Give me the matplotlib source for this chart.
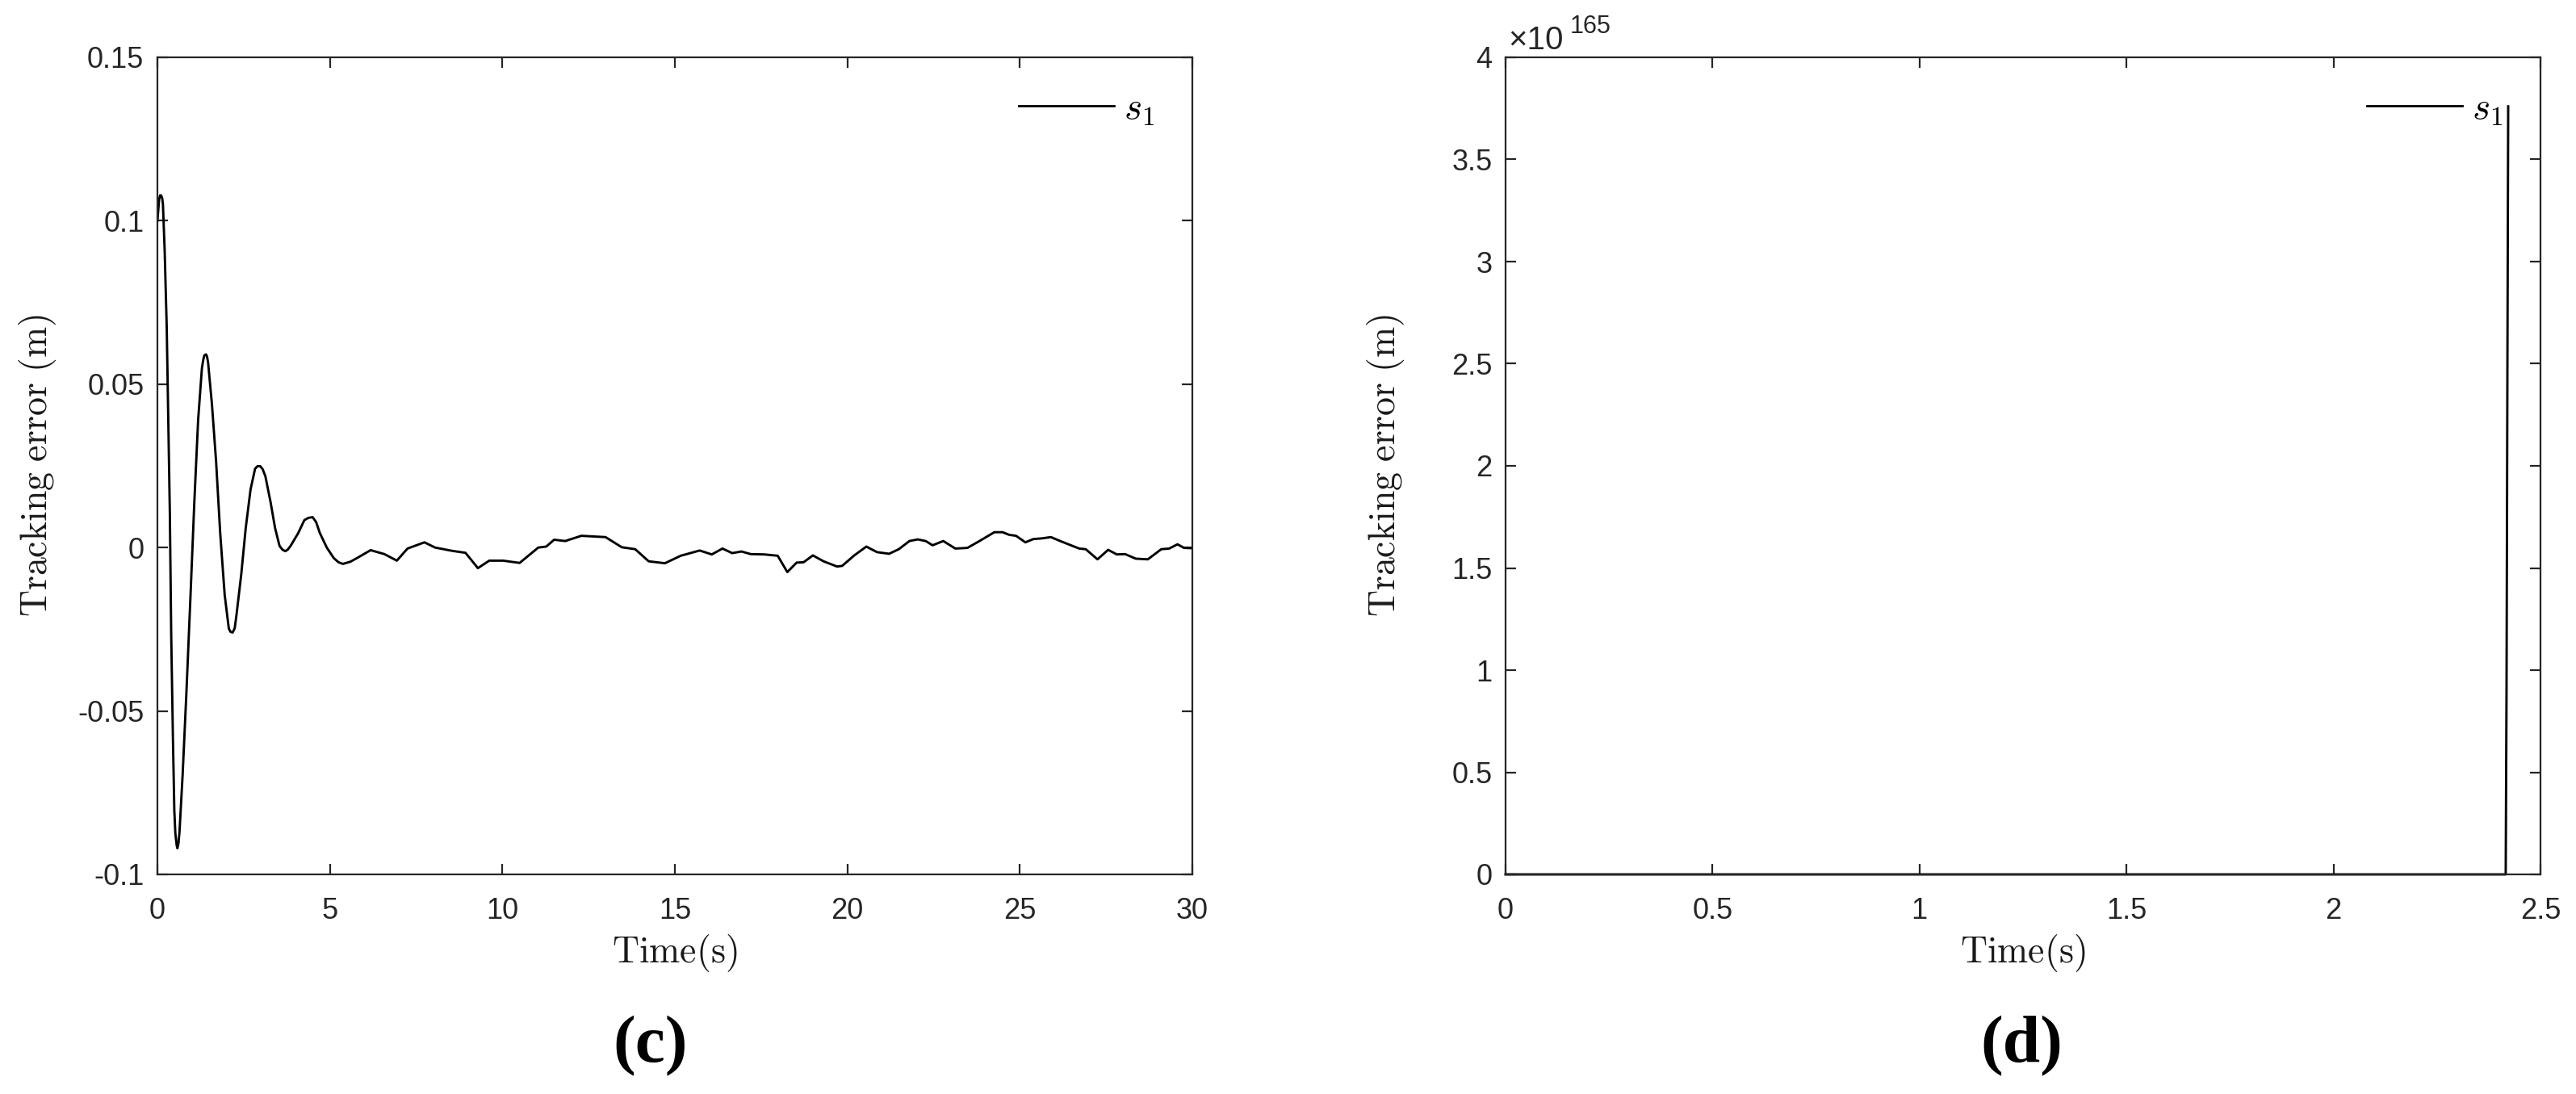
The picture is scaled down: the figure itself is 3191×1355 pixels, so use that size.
import matplotlib
matplotlib.use('Agg')
import matplotlib.pyplot as plt
from matplotlib.ticker import FixedLocator, FuncFormatter

plt.rcParams['mathtext.fontset'] = 'cm'
plt.rcParams['axes.unicode_minus'] = False
plt.rcParams['font.family'] = ['Liberation Sans', 'DejaVu Sans']

# ---------------- data: panel (c) ----------------
t_c = [0.00, 0.05, 0.08, 0.11, 0.14, 0.16, 0.21, 0.27, 0.31, 0.36, 0.40, 0.45, 0.49,
       0.52, 0.56, 0.58, 0.61, 0.64, 0.73, 0.84, 0.96, 1.07, 1.18, 1.29, 1.33, 1.36,
       1.41, 1.44, 1.47, 1.58, 1.70, 1.82, 1.95, 2.07, 2.12, 2.18, 2.24, 2.29, 2.43,
       2.56, 2.70, 2.83, 2.90, 2.98, 3.05, 3.13, 3.28, 3.41, 3.54, 3.63, 3.71, 3.78,
       3.86, 4.08, 4.26, 4.38, 4.50, 4.60, 4.71, 4.91, 5.11, 5.25, 5.38, 5.60, 5.82,
       6.18, 6.58, 6.94, 7.25, 7.74, 8.05, 8.54, 8.93, 9.29, 9.62, 10.02, 10.50,
       11.04, 11.27, 11.50, 11.82, 12.29, 12.99, 13.46, 13.85, 14.24, 14.71, 15.17,
       15.72, 16.07, 16.38, 16.66, 16.93, 17.20, 17.59, 17.98, 18.26, 18.53, 18.73,
       19.00, 19.31, 19.70, 19.85, 20.20, 20.55, 20.86, 21.21, 21.49, 21.80, 22.04,
       22.27, 22.47, 22.78, 23.13, 23.48, 23.83, 24.26, 24.50, 24.69, 24.89, 25.16,
       25.39, 25.63, 25.90, 26.17, 26.48, 26.72, 26.91, 27.25, 27.56, 27.81, 28.05,
       28.36, 28.71, 29.10, 29.33, 29.57, 29.76, 30.00]
s1_c = [0.1000, 0.1066, 0.1078, 0.1077, 0.1068, 0.1050, 0.0910, 0.0673, 0.0420,
        0.0107, -0.0270, -0.0585, -0.0805, -0.0875, -0.0912, -0.0920, -0.0905,
        -0.0870, -0.0697, -0.0445, -0.0145, 0.0139, 0.0390, 0.0549, 0.0575, 0.0588,
        0.0591, 0.0584, 0.0565, 0.0439, 0.0265, 0.0044, -0.0145, -0.0248, -0.0258,
        -0.0260, -0.0247, -0.0208, -0.0082, 0.0060, 0.0178, 0.0241, 0.0249, 0.0249,
        0.0240, 0.0218, 0.0139, 0.0060, 0.0005, -0.0007, -0.0011, -0.0006, 0.0005,
        0.0044, 0.0084, 0.0091, 0.0093, 0.0078, 0.0044, 0.0000, -0.0032, -0.0045,
        -0.0050, -0.0043, -0.0030, -0.0008, -0.0020, -0.0040, -0.0003, 0.0016,
        0.0000, -0.0010, -0.0016, -0.0063, -0.0040, -0.0040, -0.0047, 0.0000,
        0.0003, 0.0024, 0.0020, 0.0036, 0.0032, 0.0001, -0.0005, -0.0042, -0.0048,
        -0.0025, -0.0009, -0.0021, -0.0003, -0.0017, -0.0012, -0.0020, -0.0021,
        -0.0025, -0.0075, -0.0046, -0.0045, -0.0024, -0.0042, -0.0058, -0.0056,
        -0.0024, 0.0003, -0.0014, -0.0019, -0.0005, 0.0020, 0.0025, 0.0020, 0.0007,
        0.0020, -0.0003, -0.0001, 0.0020, 0.0047, 0.0047, 0.0039, 0.0036, 0.0016,
        0.0026, 0.0028, 0.0032, 0.0020, 0.0007, -0.0003, -0.0005, -0.0036, -0.0007,
        -0.0021, -0.0020, -0.0034, -0.0036, -0.0005, -0.0003, 0.0010, -0.0001,
        -0.0002]

# ---------------- data: panel (d) ----------------
t_d = [0.0, 2.416, 2.418, 2.420, 2.422]
s1_d = [0.0, 0.0, 0.9e165, 2.4e165, 3.76e165]

xticks_c = [0, 5, 10, 15, 20, 25, 30]
yticks_c = [-0.1, -0.05, 0, 0.05, 0.1, 0.15]
xticks_d = [0, 0.5, 1, 1.5, 2, 2.5]
yticks_d = [0, 0.5e165, 1e165, 1.5e165, 2e165, 2.5e165, 3e165, 3.5e165, 4e165]

xlabel = r'$\mathrm{Time(s)}$'
ylabel = r'$\mathrm{Tracking\ error\ (m)}$'
legend_label = r'$s_1$'
panel_labels = ['(c)', '(d)']

# ---------------- figure ----------------
W, H = 3191, 1355
DPI = 200
fig = plt.figure(figsize=(W / DPI, H / DPI), dpi=DPI)
fig.patch.set_facecolor('white')

ax_l = 195, 1865
ax_w = 1282
ax_top, ax_bot = 71, 1083
axes = []
for x0 in ax_l:
    ax = fig.add_axes([x0 / W, (H - ax_bot) / H, ax_w / W, (ax_bot - ax_top) / H])
    axes.append(ax)

gray = '#262626'


def style(ax):
    for sp in ax.spines.values():
        sp.set_color(gray)
        sp.set_linewidth(0.8)
    ax.tick_params(direction='in', length=4.6, width=0.8, colors=gray,
                   top=True, right=True, labelsize=13)
    ax.tick_params(axis='x', pad=10)
    ax.tick_params(axis='y', pad=6)
    ax.set_xlabel(xlabel, fontsize=16.5, color='#1a1a1a')
    ax.set_ylabel(ylabel, fontsize=16.5, color='#1a1a1a')
    ax.xaxis.set_label_coords(0.5, -0.071)
    ax.yaxis.set_label_coords(-0.096, 0.5)


gfmt = FuncFormatter(lambda v, p: ('%g' % round(v, 6)))

# panel (c)
ax = axes[0]
ax.plot(t_c, s1_c, color='black', lw=1.05, label=legend_label)
ax.set_xlim(0, 30)
ax.set_ylim(-0.1, 0.15)
ax.xaxis.set_major_locator(FixedLocator(xticks_c))
ax.yaxis.set_major_locator(FixedLocator(yticks_c))
ax.xaxis.set_major_formatter(gfmt)
ax.yaxis.set_major_formatter(gfmt)
style(ax)

# panel (d)
ax = axes[1]
ax.plot(t_d, s1_d, color='black', lw=1.05, label=legend_label, clip_on=False)
ax.set_xlim(0, 2.5)
ax.set_ylim(0, 4e165)
ax.xaxis.set_major_locator(FixedLocator(xticks_d))
ax.yaxis.set_major_locator(FixedLocator(yticks_d))
ax.xaxis.set_major_formatter(gfmt)
ax.yaxis.set_major_formatter(FuncFormatter(lambda v, p: '%g' % round(v / 1e165, 6)))
style(ax)
# exponent multiplier
fig.text(1868 / W, (H - 61) / H, '×10', fontsize=14.5, color=gray, ha='left', va='baseline')
fig.text(1945 / W, (H - 41) / H, '165', fontsize=11, color=gray, ha='left', va='baseline')

for ax in axes:
    leg = ax.legend(loc='upper right', bbox_to_anchor=(0.9633, 0.958), frameon=False,
                    fontsize=17, handlelength=2.5, handletextpad=0.25,
                    borderpad=0, borderaxespad=0)
    for line in leg.get_lines():
        line.set_linewidth(1.0)

fig.text(806 / W, 1 - 1296 / H, panel_labels[0], fontsize=30, fontweight='bold',
         family='Liberation Serif', ha='center', va='center')
fig.text(2504 / W, 1 - 1296 / H, panel_labels[1], fontsize=30, fontweight='bold',
         family='Liberation Serif', ha='center', va='center')

fig.savefig('out.png', dpi=DPI, facecolor='white')
